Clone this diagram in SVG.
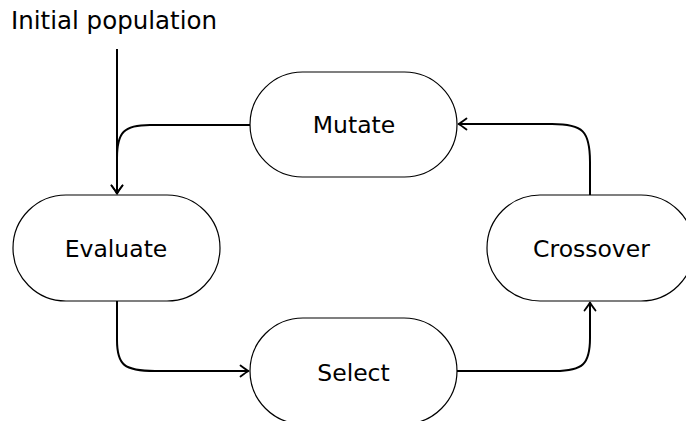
<svg xmlns="http://www.w3.org/2000/svg" width="686" height="421" viewBox="0 0 686 421">
  <style>
    .node { fill: #ffffff; stroke: #000000; stroke-width: 1.2; }
    .label { font-family: "DejaVu Sans", "Liberation Sans", sans-serif; font-size: 23.5px; fill: #000000; text-anchor: middle; }
    .edge { fill: none; stroke: #000000; stroke-width: 2; }
  </style>
  <defs>
    <marker id="arrow" markerUnits="userSpaceOnUse" markerWidth="14" markerHeight="14" viewBox="-10 -7 12 14" refX="0" refY="0" orient="auto">
      <path d="M-8,-5.5 Q-2,-1 0,0 Q-2,1 -8,5.5" fill="none" stroke="#000000" stroke-width="1.8" stroke-linecap="round" stroke-linejoin="round"/>
    </marker>
  </defs>

  <g id="initial-population">
    <text class="label" x="114" y="29" style="font-size:24.5px">Initial population</text>
  </g>

  <g id="mutate">
    <rect class="node" x="250" y="72" width="207" height="105" rx="52.5" ry="52.5"/>
    <text class="label" x="354" y="133">Mutate</text>
  </g>

  <g id="evaluate">
    <rect class="node" x="13" y="195" width="207" height="106" rx="53" ry="53"/>
    <text class="label" x="116" y="256.5">Evaluate</text>
  </g>

  <g id="select">
    <rect class="node" x="250" y="318" width="207" height="106" rx="53" ry="53"/>
    <text class="label" x="353.5" y="380.5">Select</text>
  </g>

  <g id="crossover">
    <rect class="node" x="487" y="195" width="207" height="106" rx="53" ry="53"/>
    <text class="label" x="591.5" y="256.5">Crossover</text>
  </g>

  <g id="connectors">
    <path class="edge" d="M117,49 L117,193.5" marker-end="url(#arrow)"/>
    <path class="edge" d="M250,125 L150,125 C124,125 117,132 117,158 L117,193.5" marker-end="url(#arrow)"/>
    <path class="edge" d="M117,301 L117,340 C117,365 124,371 155,371 L248.5,371" marker-end="url(#arrow)"/>
    <path class="edge" d="M457,371 L555,371 C583,371 590,364 590,338 L590,302.5" marker-end="url(#arrow)"/>
    <path class="edge" d="M590,195 L590,162 C590,131 583,124 552,124 L458.5,124" marker-end="url(#arrow)"/>
  </g>
</svg>
